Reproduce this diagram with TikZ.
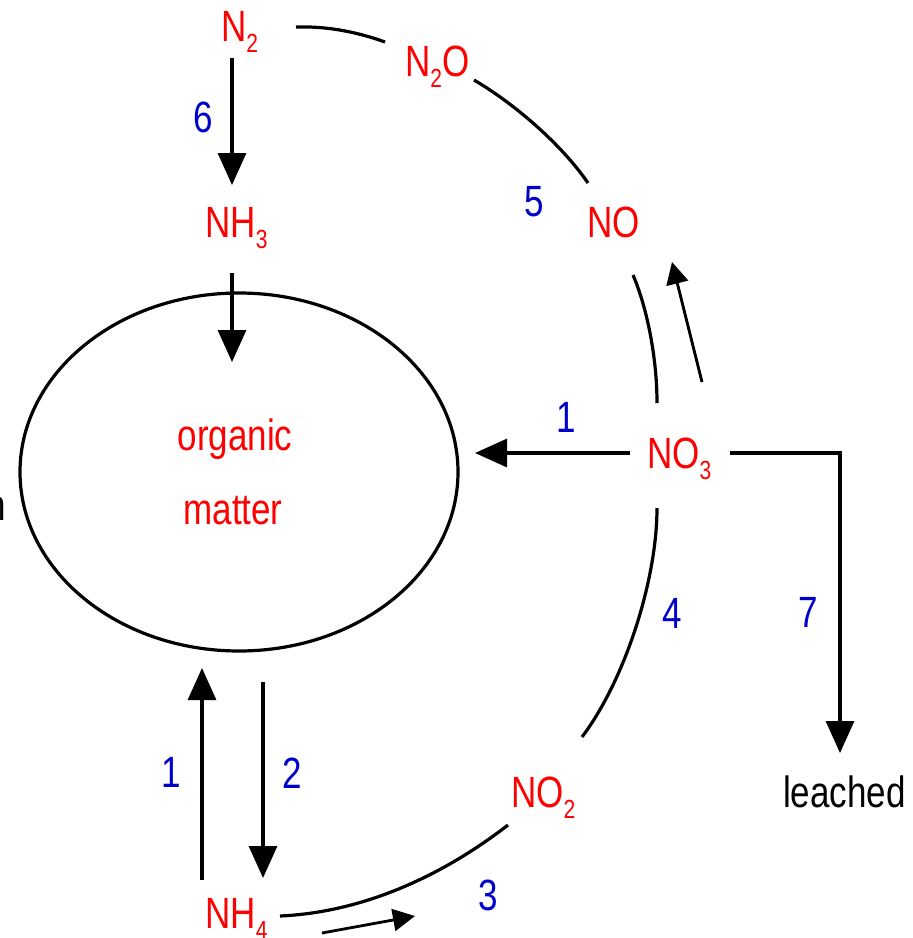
\documentclass[tikz,border=0pt]{standalone}
\usepackage{fontspec}
\setmainfont{Liberation Sans}
\usetikzlibrary{arrows.meta,shapes.geometric}
\definecolor{chemred}{RGB}{255,0,0}
\definecolor{numblue}{RGB}{0,0,204}
\newcommand{\vs}[1]{\scalebox{1}[1.25]{#1}}
\newcommand{\subx}[1]{\raisebox{-9pt}{\fontsize{21}{23}\selectfont #1}}
\begin{document}
\begin{tikzpicture}[x=1pt,y=-1pt,
  chem/.style={text=chemred,font=\fontsize{35}{40}\selectfont,inner sep=0pt,anchor=base west},
  lbl/.style={text=black,font=\fontsize{35}{40}\selectfont,inner sep=0pt,anchor=base west},
  num/.style={text=numblue,font=\fontsize{35}{40}\selectfont,inner sep=0pt},
  conn/.style={line width=3.2pt,black},
  big/.style={conn,-{Triangle[length=32pt,width=28pt]}},
  small/.style={line width=2.8pt,black,-{Triangle[length=22pt,width=22pt]}}
]
\useasboundingbox (0,0) rectangle (913,938);
% ellipse
\node[draw,line width=3.2pt,ellipse,minimum width=438pt,minimum height=358pt,inner sep=0pt] (om) at (239,472) {};
\node[text=chemred,font=\fontsize{35}{40}\selectfont,inner sep=0pt,anchor=base] (org) at (235,450) {\vs{organic}};
\node[text=chemred,font=\fontsize{35}{40}\selectfont,inner sep=0pt,anchor=base] (mat) at (233,524) {\vs{matter}};
\node[lbl,anchor=base east] (cut) at (6,520) {\vs{n}};
% species
\node[chem] (n2) at (221,41) {\vs{N\subx{2}}};
\node[chem] (nh3) at (205,237) {\vs{NH\subx{3}}};
\node[chem] (n2o) at (405,76) {\vs{N\subx{2}O}};
\node[chem] (no) at (587,237) {\vs{NO}};
\node[chem] (no3) at (647,468) {\vs{NO\subx{3}}};
\node[chem] (no2) at (511,807) {\vs{NO\subx{2}}};
\node[chem] (nh4) at (205,928) {\vs{NH\subx{4}}};
\node[lbl] (leached) at (783,807) {\vs{leached}};
% numbers
\node[num] (k6) at (203,117) {\vs{6}};
\node[num] (k5) at (534,202) {\vs{5}};
\node[num] (k1a) at (566,417) {\vs{1}};
\node[num] (k4) at (672,613) {\vs{4}};
\node[num] (k7) at (808,612) {\vs{7}};
\node[num] (k1b) at (171,772) {\vs{1}};
\node[num] (k2) at (292,773) {\vs{2}};
\node[num] (k3) at (488,895) {\vs{3}};
% coordinates
\coordinate (a1s) at (232,58);   \coordinate (a1e) at (232,185);
\coordinate (a2s) at (232,273);  \coordinate (a2e) at (232,362);
\coordinate (c1s) at (296,27);   \coordinate (c1e) at (385,42);
\coordinate (c2s) at (474,80);   \coordinate (c2e) at (588,183);
\coordinate (c3s) at (633,275);  \coordinate (c3e) at (657,403);
\coordinate (a3s) at (702,382);  \coordinate (a3e) at (672,262);
\coordinate (a4s) at (630,453);  \coordinate (a4e) at (475,453);
\coordinate (a5s) at (730,453);  \coordinate (a5c) at (840,453); \coordinate (a5e) at (840,753);
\coordinate (c4s) at (657,508);  \coordinate (c4e) at (582,737);
\coordinate (c5s) at (508,825);  \coordinate (c5e) at (280,916);
\coordinate (a6s) at (322,933);  \coordinate (a6e) at (415,916);
\coordinate (a7s) at (202,880);  \coordinate (a7e) at (202,668);
\coordinate (a8s) at (263,682);  \coordinate (a8e) at (263,878);
% connectors
\draw[big] (a1s) -- (a1e);
\draw[big] (a2s) -- (a2e);
\draw[conn] (c1s) .. controls (330,26) and (360,33) .. (c1e);
\draw[conn] (c2s) .. controls (515,104) and (562,145) .. (c2e);
\draw[conn] (c3s) .. controls (646,305) and (657,355) .. (c3e);
\draw[small] (a3s) -- (a3e);
\draw[big] (a4s) -- (a4e);
\draw[big] (a5s) -- (a5c) -- (a5e);
\draw[conn] (c4s) .. controls (657,580) and (625,680) .. (c4e);
\draw[conn] (c5s) .. controls (450,870) and (370,912) .. (c5e);
\draw[small] (a6s) -- (a6e);
\draw[big] (a7s) -- (a7e);
\draw[big] (a8s) -- (a8e);
\end{tikzpicture}
\end{document}
